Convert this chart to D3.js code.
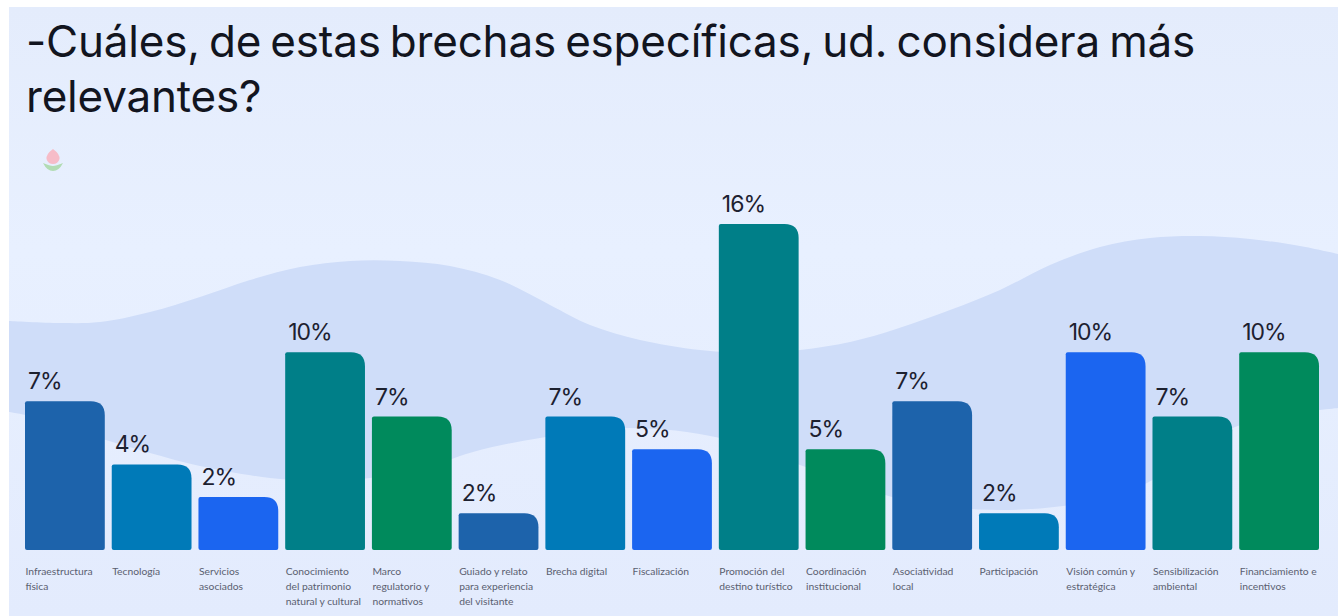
<!doctype html>
<html>
<head>
    <meta charset="UTF-8">
    <title>Brechas especificas</title>
    <style>
        html, body { margin: 0; padding: 0; background: #fff; overflow: hidden; }
        svg { display: block; }
        .title { font-family: Inter, sans-serif; font-size: 44px; font-weight: 400; fill: #12151f; letter-spacing: -0.2px; word-spacing: -3px; }
        .pct { font-family: Inter, sans-serif; font-size: 23px; fill: #1d2130; letter-spacing: -1px; }
        .tick text { font-family: Lato, sans-serif; font-size: 10.3px; fill: #5a6070; }
        .domain { display: none; }
    </style>
    <script src="https://d3js.org/d3.v7.min.js"></script>
</head>
<body>
<svg id="chart" width="1338" height="616"></svg>
<script>
// values (bar height), printed labels kept apart since they are rounded
var categories = [
    "Infraestructura física", "Tecnología", "Servicios asociados",
    "Conocimiento del patrimonio natural y cultural", "Marco regulatorio y normativos",
    "Guiado y relato para experiencia del visitante", "Brecha digital", "Fiscalización",
    "Promoción del destino turístico", "Coordinación institucional", "Asociatividad local",
    "Participación", "Visión común y estratégica", "Sensibilización ambiental",
    "Financiamiento e incentivos"
];
var tickLines = [
    ["Infraestructura", "física"], ["Tecnología"], ["Servicios", "asociados"],
    ["Conocimiento", "del patrimonio", "natural y cultural"], ["Marco", "regulatorio y", "normativos"],
    ["Guiado y relato", "para experiencia", "del visitante"], ["Brecha digital"], ["Fiscalización"],
    ["Promoción del", "destino turístico"], ["Coordinación", "institucional"], ["Asociatividad", "local"],
    ["Participación"], ["Visión común y", "estratégica"], ["Sensibilización", "ambiental"],
    ["Financiamiento e", "incentivos"]
];
var values = [7.3, 4.2, 2.6, 9.7, 6.55, 1.8, 6.55, 4.95, 16, 4.95, 7.3, 1.8, 9.7, 6.55, 9.7];
var valueLabels = ["7%", "4%", "2%", "10%", "7%", "2%", "7%", "5%", "16%", "5%", "7%", "2%", "10%", "7%", "10%"];
var barColors = ["#1d63ab", "#007ab8", "#1b65f0", "#007f88", "#008a5c"];
var titleLines = ["-Cuáles, de estas brechas específicas, ud. considera más", "relevantes?"];

// background wave outline, not data
var waveTop = [[9,321],[60,323],[100,322],[150,312],[200,297],[250,280],[300,267],[350,261],[400,261],[450,266],
    [500,280],[550,305],[590,325],[640,340],[700,350],[750,353],[800,350],[850,342],[890,331],[950,310],
    [1000,290],[1050,265],[1100,247],[1150,238],[1200,236],[1250,239],[1300,246],[1338,254]];
var waveBottom = [[9,412],[30,416],[80,432],[150,453],[200,466],[270,478],[320,481],[370,478],[420,470],[473,452],
    [540,438],[630,428],[720,438],[800,465],[885,495],[930,505],[1000,510],[1063,506],[1110,497],[1147,483],
    [1190,455],[1235,427],[1285,415],[1338,408]];

var svg = d3.select("#chart");

var defs = svg.append("defs");
var grad = defs.append("linearGradient").attr("id", "panelFill")
    .attr("x1", 0).attr("y1", 0).attr("x2", 0).attr("y2", 1);
grad.append("stop").attr("offset", "0").attr("stop-color", "#e4ecfc");
grad.append("stop").attr("offset", "0.4").attr("stop-color", "#e8f0ff");
grad.append("stop").attr("offset", "1").attr("stop-color", "#e3ebfd");
defs.append("filter").attr("id", "soft").append("feGaussianBlur").attr("stdDeviation", 0.7);

// panel, white strip stays on the left and top
svg.append("rect").attr("x", 9).attr("y", 7).attr("width", 1329).attr("height", 609)
    .attr("fill", "url(#panelFill)");

// wave
var waveLine = d3.line().curve(d3.curveCatmullRom);
var wavePath = waveLine(waveTop) + "L" + waveLine(waveBottom.slice().reverse()).slice(1) + "Z";
svg.append("path").attr("d", wavePath).attr("fill", "#cfddf9");

// logo
var logo = svg.append("g").attr("filter", "url(#soft)").attr("transform", "translate(53,160)");
logo.append("path").attr("d", "M0,-11 Q7,-6 6.5,-1 Q5,4 0,4 Q-5,4 -6.5,-1 Q-7,-6 0,-11Z").attr("fill", "#f6bcc8");
logo.append("path").attr("d", "M-10,3 Q-3,6 0,6 Q3,6 10,3 Q6,11 0,11 Q-6,11 -10,3Z").attr("fill", "#b2dcb4");

// title
svg.selectAll("text.title").data(titleLines).enter().append("text")
    .attr("class", "title")
    .attr("x", 26)
    .attr("y", function(d, i) { return 57 + i * 55; })
    .text(function(d) { return d; });

// scales
var x = d3.scaleBand().domain(categories).range([25, 1319]).paddingInner(0.08);
var y = d3.scaleLinear().domain([0, 16]).range([550, 224]);

function barPath(d, i) {
    var l = x(categories[i]), r = l + x.bandwidth(), t = y(d), b = y(0);
    var rr = 14, rl = 2, rb = 2;
    return "M" + (l + rb) + "," + b + "Q" + l + "," + b + " " + l + "," + (b - rb)
        + "L" + l + "," + (t + rl) + "Q" + l + "," + t + " " + (l + rl) + "," + t
        + "L" + (r - rr) + "," + t + "Q" + r + "," + t + " " + r + "," + (t + rr)
        + "L" + r + "," + (b - rb) + "Q" + r + "," + b + " " + (r - rb) + "," + b + "Z";
}

svg.selectAll("path.bar").data(values).enter().append("path")
    .attr("class", "bar")
    .attr("d", barPath)
    .attr("fill", function(d, i) { return barColors[i % barColors.length]; });

svg.selectAll("text.pct").data(values).enter().append("text")
    .attr("class", "pct")
    .attr("x", function(d, i) { return x(categories[i]) + 3; })
    .attr("y", function(d) { return y(d) - 12; })
    .text(function(d, i) { return valueLabels[i]; });

// axis, labels broken on the same lines as the picture
var axis = svg.append("g").attr("transform", "translate(0,550)")
    .call(d3.axisBottom(x).tickSize(0).tickFormat(""));
axis.selectAll(".tick text").each(function(d, i) {
    var t = d3.select(this).attr("text-anchor", "start").attr("y", 0).attr("dy", null);
    tickLines[i].forEach(function(line, k) {
        t.append("tspan")
            .attr("x", -x.bandwidth() / 2 + 0.5)
            .attr("y", 25 + k * 15)
            .text(line);
    });
});
</script>
</body>
</html>
